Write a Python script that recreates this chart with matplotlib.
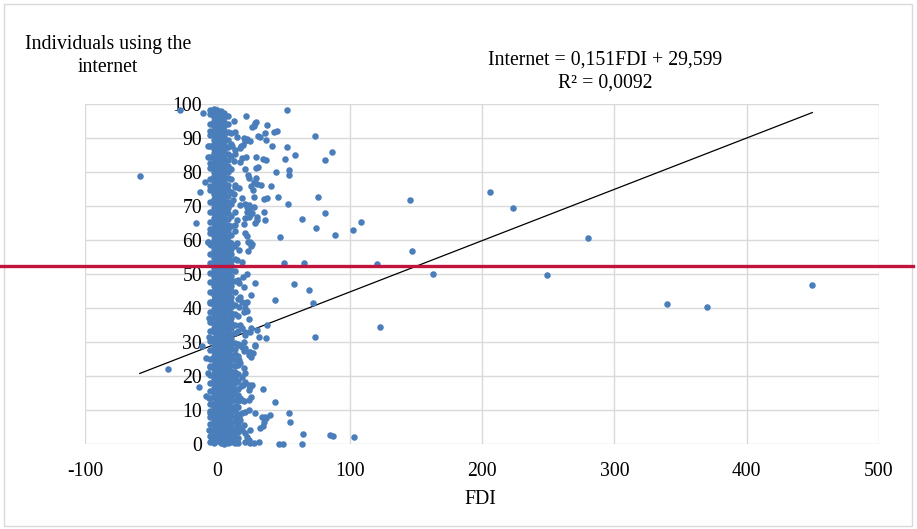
import matplotlib
matplotlib.use("Agg")
import matplotlib.pyplot as plt
import matplotlib.transforms as mtransforms
from matplotlib.lines import Line2D
from matplotlib.patches import Rectangle
import numpy as np

plt.rcParams['font.family'] = ['Liberation Serif', 'DejaVu Serif']
plt.rcParams['axes.unicode_minus'] = False

BLUE, RED, GRID = "#4A7EBB", "#C0143C", "#D9D9D9"
FS = 14.2

# ---- dense core: countries with FDI close to zero, grouped in FDI columns ----
band_x = [-5.2, -2.6, 0.0, 2.6, 5.3, 7.9, 10.5, 13.2, 15.8]
band_y = [
    [0.6, 2.3, 4.0, 5.9, 7.8, 9.6, 11.7, 13.5, 15.5, 17.8, 20.2, 22.6, 25.0, 27.5, 30.4, 33.1,
     36.0, 38.9, 41.7, 44.6, 47.5, 50.3, 53.2, 56.0, 58.9, 62.1, 65.4, 68.2, 71.3, 74.6, 77.9,
     81.2, 84.5, 87.7, 90.9, 94.2, 97.1],
    [0.2, 1.4, 2.9, 4.0, 5.6, 6.8, 8.3, 9.5, 11.0, 12.2, 13.8, 15.1, 16.4, 17.9, 19.2, 20.5,
     22.0, 23.1, 24.7, 26.0, 27.3, 28.8, 30.1, 31.3, 32.9, 34.2, 35.4, 37.0, 38.3, 39.6, 41.0,
     42.3, 43.7, 45.0, 46.4, 47.8, 49.0, 50.5, 51.7, 53.1, 54.6, 55.8, 57.2, 58.5, 59.9, 61.2,
     62.6, 63.9, 65.3, 66.6, 67.9, 69.3, 70.7, 72.0, 73.4, 74.6, 76.1, 77.3, 78.8, 80.1, 81.4,
     82.9, 84.1, 85.6, 86.8, 88.2, 89.5, 90.9, 92.2, 93.6, 94.9, 96.3, 97.4, 98.4],
    [0.8, 2.1, 3.4, 4.9, 6.1, 7.6, 8.8, 10.3, 11.5, 13.0, 14.3, 15.7, 17.0, 18.4, 19.8, 21.1,
     22.6, 23.8, 25.3, 26.5, 28.0, 29.4, 30.6, 32.0, 33.4, 34.7, 36.1, 37.5, 38.8, 40.3, 41.6,
     43.0, 44.3, 45.7, 47.1, 48.4, 49.8, 51.1, 52.5, 53.9, 55.2, 56.5, 57.9, 59.3, 60.5, 62.0,
     63.3, 64.6, 66.0, 67.4, 68.6, 70.1, 71.4, 72.8, 74.0, 75.5, 76.8, 78.2, 79.5, 80.8, 82.3,
     83.5, 84.9, 86.2, 87.6, 88.9, 90.3, 91.6, 93.0, 94.3, 95.6, 97.0, 98.2],
    [0.4, 1.8, 3.1, 4.5, 5.8, 7.2, 8.5, 9.9, 11.2, 12.6, 13.9, 15.3, 16.6, 18.0, 19.3, 20.7,
     22.0, 23.4, 24.8, 26.1, 27.5, 28.8, 30.2, 31.5, 32.9, 34.3, 35.6, 37.0, 38.3, 39.7, 41.1,
     42.4, 43.8, 45.1, 46.5, 47.9, 49.2, 50.6, 51.9, 53.3, 54.7, 56.0, 57.4, 58.7, 60.1, 61.5,
     62.8, 64.2, 65.5, 66.9, 68.3, 69.6, 71.0, 72.3, 73.7, 75.1, 76.4, 77.8, 79.1, 80.5, 81.9,
     83.2, 84.6, 85.9, 87.3, 88.7, 90.0, 91.4, 92.7, 94.1, 95.5, 96.8, 98.0],
    [0.1, 1.2, 2.6, 3.9, 5.3, 6.5, 8.0, 9.3, 10.7, 11.9, 13.4, 14.7, 16.1, 17.4, 18.7, 20.2,
     21.4, 22.9, 24.1, 25.6, 26.8, 28.3, 29.6, 31.0, 32.2, 33.7, 35.0, 36.4, 37.7, 39.1, 40.5,
     41.8, 43.3, 44.5, 45.9, 47.3, 48.6, 50.0, 51.4, 52.8, 54.0, 55.5, 56.8, 58.1, 59.6, 60.9,
     62.3, 63.6, 65.0, 66.3, 67.7, 69.0, 70.4, 71.8, 73.1, 74.4, 75.8, 77.1, 78.6, 79.8, 81.2,
     82.6, 83.9, 85.2, 86.6, 88.0, 89.3, 90.6, 92.1, 93.4, 94.8, 96.1, 97.5],
    [0.3, 1.6, 3.0, 4.4, 5.7, 7.1, 8.6, 10.0, 11.4, 12.8, 14.1, 15.6, 17.0, 18.5, 19.9, 21.3,
     22.7, 24.1, 25.6, 27.0, 28.4, 29.8, 31.2, 32.7, 34.1, 35.5, 36.9, 38.4, 39.8, 41.2, 42.6,
     44.0, 45.5, 46.9, 48.3, 49.7, 51.2, 52.6, 54.0, 55.4, 56.9, 58.3, 59.7, 61.2, 62.9, 64.5,
     66.2, 67.8, 69.5, 71.1, 72.9, 74.6, 76.3, 78.1, 79.9, 81.7, 83.6, 85.4, 87.4, 89.5, 91.7,
     94.0, 96.6],
    [0.5, 1.9, 3.6, 5.0, 6.4, 8.1, 9.6, 11.0, 12.7, 14.1, 15.5, 17.2, 18.8, 20.1, 21.6, 23.3,
     24.9, 26.2, 27.8, 29.5, 31.0, 32.4, 34.1, 35.7, 37.0, 38.6, 40.3, 41.8, 43.2, 44.9, 46.5,
     47.9, 49.4, 51.2, 52.6, 54.1, 55.9, 57.3, 59.0, 61.5, 64.0, 67.2, 70.5, 74.1, 77.8, 81.0,
     84.6, 88.3, 91.5],
    [0.3, 1.7, 3.2, 4.8, 6.5, 8.0, 9.7, 11.3, 13.0, 14.6, 16.2, 18.0, 19.7, 21.3, 23.0, 24.6,
     26.4, 28.0, 29.8, 32.5, 35.1, 38.2, 41.0, 44.6, 47.9, 51.0, 54.4, 58.2, 62.7, 68.1, 76.3,
     85.2],
    [0.4, 1.9, 3.5, 5.2, 7.0, 8.9, 10.8, 12.6, 14.5, 16.3, 18.4, 20.5, 23.1, 26.0, 29.4, 33.2,
     37.6, 42.5, 48.1],
]

# ---- the rest of the observations, read point by point ----
fdi = [-58.6, -37.3, -28.4, -15.9, -14.1, -12.8, -11.6, -10.5, -9.0, -8.3, -8.3, -7.3, -7.3,
       -7.3, -7.3, -7.0, -6.5, -6.5, -6.5, -6.0, -5.8, -5.8, -5.8, -5.3, -5.3, -5.3, -5.3, -5.3,
       -4.8, -4.5,
       12.3, 13.6, 14.9, 11.1, 13.6, 17.4, 19.1, 18.1, 19.9, 21.1, 22.4, 24.4, 21.4, 52.4, 28.2,
       26.2, 29.2, 27.4, 37.5, 42.5, 45.1, 36.3, 30.5, 32.5, 36.8, 41.5, 52.6, 73.5, 58.4, 86.4,
       81.1, 50.9, 34.5, 37.0, 28.9, 21.9, 18.4, 16.9, 12.3, 20.6, 29.2, 31.0, 44.6, 53.9, 54.2,
       23.0, 23.7, 27.4, 29.5, 30.0, 33.0, 25.4, 40.6,
       13.6, 16.1, 12.3, 11.6, 18.6, 16.9, 21.1, 23.7, 22.4, 27.4, 22.4, 23.7, 24.9, 26.2, 26.9,
       27.9, 35.0, 37.8, 45.7, 53.7, 76.0, 81.1, 35.0, 30.0, 28.7, 30.0, 36.3, 63.8, 74.6, 88.8,
       102.2, 108.6, 23.7, 21.1, 14.9, 13.6, 20.2, 47.4, 21.1, 22.2, 22.9, 24.9, 26.2, 25.4, 14.9,
       16.1, 23.2, 14.9, 18.6, 50.6, 65.2,
       22.4, 19.1, 16.1, 19.9, 28.7, 57.7, 69.1, 25.7, 17.4, 18.6, 21.1, 22.4, 16.1, 20.6, 19.9,
       22.4, 23.7, 43.8, 72.2, 74.0,
       17.4, 18.6, 21.1, 25.7, 30.0, 37.5, 36.6, 31.2, 28.7, 24.9, 21.1, 19.9, 18.6, 16.1, 21.1,
       23.7, 19.9, 24.9, 23.7, 26.9, 25.4, 28.2,
       16.1, 17.4, 19.9, 21.1, 18.6, 21.1, 23.7, 26.2, 24.9, 23.7, 17.9, 19.4, 34.5,
       25.2, 23.7, 19.9, 18.6, 17.4, 43.5, 23.7, 21.1, 18.6, 16.1, 17.4, 28.2, 39.5, 36.3, 33.7,
       37.0, 35.0, 34.5, 32.0, 54.5, 55.1, 19.9, 24.9, 15.4,
       18.6, 21.1, 22.4, 23.7, 21.1, 24.2, 27.4, 24.9, 31.7, 46.3, 49.8, 64.3, 64.9, 85.1, 87.1,
       103.2, 12.3, 17.4, 14.9,
       120.6, 122.6, 145.8, 147.0, 162.9, 205.7, 223.3, 249.0, 280.0, 339.6, 369.9, 449.6]
internet = [78.9, 22.1, 98.2, 64.9, 16.9, 74.0, 28.8, 97.5, 77.0, 25.2, 14.1, 87.7, 84.5,
            59.5, 21.0, 59.5, 13.4, 4.1, 31.6, 37.0, 82.6, 75.9, 9.2, 98.2, 92.1, 63.1, 41.4, 22.9,
            2.2, 58.5,
            95.0, 91.9, 90.4, 87.5, 86.5, 87.2, 88.0, 87.5, 89.9, 89.1, 89.7, 89.2, 96.5, 98.2, 94.3,
            93.3, 94.8, 93.5, 93.8, 91.9, 92.0, 91.4, 90.6, 90.4, 89.4, 87.5, 87.3, 90.6, 85.0, 85.9,
            83.5, 83.7, 83.8, 83.5, 84.5, 84.4, 84.1, 82.8, 83.1, 80.9, 81.3, 81.6, 79.9, 80.7, 79.2,
            79.1, 78.1, 77.0, 78.2, 76.4, 76.3, 75.9, 75.8,
            75.7, 75.3, 73.5, 71.8, 72.3, 70.3, 70.6, 70.3, 69.6, 69.8, 68.3, 68.8, 67.4, 67.8, 74.7,
            72.7, 72.0, 72.3, 72.5, 70.6, 72.5, 67.9, 68.1, 66.7, 64.9, 65.9, 65.9, 66.3, 63.4, 61.4,
            62.9, 65.4, 66.9, 66.4, 65.9, 64.4, 64.6, 61.0, 62.0, 61.2, 59.5, 59.5, 58.7, 58.2, 59.0,
            57.1, 56.9, 54.1, 53.6, 53.3, 53.2,
            49.9, 49.2, 47.3, 46.3, 47.3, 47.0, 45.3, 43.8, 43.3, 41.9, 41.6, 41.9, 40.4, 39.9, 38.9,
            39.1, 36.9, 42.3, 41.4, 31.5,
            35.0, 34.0, 33.0, 34.0, 33.5, 35.0, 31.1, 31.6, 29.1, 33.0, 32.0, 30.1, 28.6, 29.1, 28.1,
            27.0, 27.4, 27.2, 26.2, 26.7, 25.7, 28.8,
            24.7, 23.7, 22.3, 20.8, 19.8, 18.3, 17.4, 17.4, 16.7, 15.9, 17.1, 17.4, 16.3,
            13.9, 12.9, 12.5, 12.9, 13.4, 12.3, 10.0, 9.5, 9.0, 8.0, 7.1, 9.0, 8.5, 7.8, 8.0,
            7.7, 6.6, 5.3, 4.8, 9.0, 6.4, 5.6, 4.1, 6.1,
            4.1, 3.1, 2.0, 1.2, 0.7, 0.7, 0.4, 0.2, 0.7, 0.1, 0.0, 0.1, 3.0, 2.5, 2.4,
            2.1, 2.2, 4.6, 0.5,
            52.9, 34.5, 71.8, 56.8, 50.0, 74.1, 69.3, 49.7, 60.7, 41.1, 40.2, 46.8]

# OLS line reported for the full sample, plus the reference level
slope, intercept, r2 = 0.151, 29.599, 0.0092
ref_level = 52.4

x = np.array(fdi + [bx for bx, col in zip(band_x, band_y) for _ in col])
y = np.array(internet + [v for col in band_y for v in col])

fig = plt.figure(figsize=(9.17, 5.29), dpi=100)
ax = fig.add_axes([0.0927, 0.1607, 0.8659, 0.6427])

ax.scatter(x, y, s=22, color=BLUE, linewidths=0, zorder=3, clip_on=False)
xs = np.array([x.min(), x.max()])
ax.plot(xs, slope * xs + intercept, color="black", lw=0.9, zorder=2)

ax.set_xlim(-100, 500)
ax.set_ylim(0, 100)
ax.set_xticks(range(-100, 501, 100))
ax.set_yticks(range(0, 101, 10))
ax.grid(color=GRID, lw=1.0)
ax.set_axisbelow(True)
for side in ["top", "right", "bottom"]:
    ax.spines[side].set_visible(False)
# value axis crosses the category axis at FDI = 0
ax.spines["left"].set_position(("data", 0))
ax.spines["left"].set_color(GRID)
ax.tick_params(axis="y", length=0, pad=11, labelsize=FS)
ax.tick_params(axis="x", length=0, pad=13, labelsize=FS)

# reference level drawn across the whole chart width
tr = mtransforms.blended_transform_factory(fig.transFigure, ax.transData)
fig.add_artist(Line2D([0, 0.996], [ref_level, ref_level], transform=tr,
                      color=RED, lw=2.4, zorder=10))

fig.add_artist(Rectangle((4 / 917, 3 / 529), 908 / 917, 522 / 529, transform=fig.transFigure,
                         fill=False, edgecolor=GRID, lw=1.0))

fig.text(108 / 917, 1 - 45 / 529, "Individuals using the", ha="center", va="center", fontsize=FS)
fig.text(108 / 917, 1 - 68 / 529, "internet", ha="center", va="center", fontsize=FS)
eq = f"Internet = {slope:.3f}FDI + {intercept:.3f}".replace(".", ",")
fig.text(605 / 917, 1 - 60 / 529, eq, ha="center", va="center", fontsize=FS)
fig.text(605 / 917, 1 - 83 / 529, f"R² = {r2:.4f}".replace(".", ","),
         ha="center", va="center", fontsize=FS)
fig.text(480 / 917, 1 - 500 / 529, "FDI", ha="center", va="center", fontsize=FS)

fig.savefig("out.png", dpi=100)
